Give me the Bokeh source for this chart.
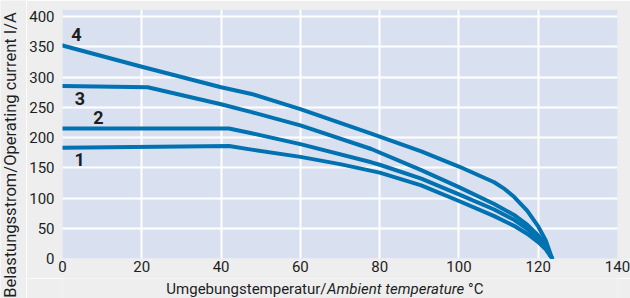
import math
from bokeh.plotting import figure
from bokeh.layouts import row, column
from bokeh.models import FixedTicker, Range1d
from bokeh.core.properties import value
from bokeh.embed import file_html
from bokeh.resources import INLINE

# --- data ---
c1_x = [0, 42, 47.7, 60, 70, 80, 90.5, 100, 108.9, 113.9, 117.2, 120, 121.9, 123.5]
c1_y = [183, 186, 180, 168, 156, 142, 121, 95, 70, 54, 41, 27, 15, 0]
c2_x = [0, 42, 47.7, 60, 77.9, 80, 90.5, 100, 108.9, 113.9, 117.2, 120, 121.9, 123.5]
c2_y = [215, 215, 207, 189, 159, 155, 132, 106, 81, 64, 49, 33, 19, 0]
c3_x = [0, 21.5, 40, 47.7, 60, 77.9, 90.5, 100, 108.9, 113.9, 117.2, 120, 121.9, 123.5]
c3_y = [285, 283, 255, 242, 220, 181, 146, 118, 90, 72, 56, 38, 22, 0]
c4_x = [0, 20, 40, 47.7, 60, 77.7, 90.5, 100, 108.9, 111.5, 113.9, 117.2, 120, 121.9, 123.5]
c4_y = [352, 317, 283, 272, 247, 207, 177, 152, 126, 115, 102, 79, 53, 30, 0]

curve_names = ["1", "2", "3", "4"]
name_x = [4.3, 9.05, 4.4, 3.5]
name_y = [163.5, 233.7, 264, 370.8]

x_ticks = [0, 20, 40, 60, 80, 100, 120, 140]
y_ticks = [0, 50, 100, 150, 200, 250, 300, 350, 400]

x_label_parts = ["Umgebungstemperatur/", "Ambient temperature", "°C"]
x_label_pos = [66.6, 66.75, 102.3]
y_label = "Belastungsstrom/Operating current I/A"

FONT = "Roboto"
LINE = "#0072b1"
TXT = "#1e1e1e"
BG = "#eeeeee"

x_range = Range1d(0, 140)

# --- main chart ---
p = figure(width=604, height=278, output_backend="svg", toolbar_location=None,
           x_range=x_range, y_range=Range1d(0, 411.6),
           min_border_left=34, min_border_right=13, min_border_top=9,
           min_border_bottom=20)
p.background_fill_color = "#d9e0ef"
p.border_fill_color = BG
p.outline_line_color = None

for ax in (p.xaxis[0], p.yaxis[0]):
    ax.axis_line_color = None
    ax.major_tick_line_color = None
    ax.minor_tick_line_color = None
    ax.major_tick_out = 0
    ax.major_tick_in = 0
    ax.minor_tick_out = 0
    ax.minor_tick_in = 0
    ax.axis_label_standoff = 0
    ax.major_label_text_font = FONT
    ax.major_label_text_font_size = "15px"
    ax.major_label_text_color = TXT
p.xaxis.major_label_standoff = 2
p.yaxis.major_label_standoff = 8
p.xaxis.ticker = FixedTicker(ticks=x_ticks)
p.yaxis.ticker = FixedTicker(ticks=y_ticks)

p.xgrid.ticker = FixedTicker(ticks=x_ticks)
p.ygrid.ticker = FixedTicker(ticks=y_ticks)
for g in (p.xgrid[0], p.ygrid[0]):
    g.grid_line_color = "white"
    g.grid_line_width = 2

for xs, ys in ((c1_x, c1_y), (c2_x, c2_y), (c3_x, c3_y), (c4_x, c4_y)):
    p.line(xs, ys, line_color=LINE, line_width=4, line_join="round", line_cap="round")

p.text(x=name_x, y=name_y, text=curve_names, text_font=value(FONT),
       text_font_style="bold", text_font_size="18px", text_color=TXT,
       text_align="center", text_baseline="middle")

# --- left strip: y-axis title ---
left = figure(width=26, height=298, output_backend="svg", toolbar_location=None,
              x_range=Range1d(0, 26), y_range=Range1d(0, 298),
              min_border=0, x_axis_location=None, y_axis_location=None)
left.grid.visible = False
left.background_fill_color = BG
left.border_fill_color = BG
left.outline_line_color = None
left.text(x=[9.5], y=[143.5], text=[y_label], angle=math.pi / 2,
          text_font=value(FONT), text_font_size="16.5px", text_color=TXT,
          text_align="center", text_baseline="middle")

# --- bottom strip: x-axis title with italic part ---
bottom = figure(width=604, height=20, output_backend="svg", toolbar_location=None,
                x_range=x_range, y_range=Range1d(0, 20),
                min_border_left=34, min_border_right=13, min_border_top=0,
                min_border_bottom=0, x_axis_location=None, y_axis_location=None)
bottom.grid.visible = False
bottom.background_fill_color = BG
bottom.border_fill_color = BG
bottom.outline_line_color = None
bottom.text(x=[x_label_pos[0]], y=[9.5], text=[x_label_parts[0]], text_font=value(FONT),
            text_font_size="15px", text_color=TXT, text_align="right",
            text_baseline="middle")
bottom.text(x=[x_label_pos[1]], y=[9.5], text=[x_label_parts[1]], text_font=value(FONT),
            text_font_size="15px", text_font_style="italic", text_color=TXT,
            text_align="left", text_baseline="middle")
bottom.text(x=[x_label_pos[2]], y=[9.5], text=[x_label_parts[2]], text_font=value(FONT),
            text_font_size="15px", text_color=TXT, text_align="left",
            text_baseline="middle")

layout = row(left, column(p, bottom))
open("out.html", "w").write(file_html(layout, INLINE))
